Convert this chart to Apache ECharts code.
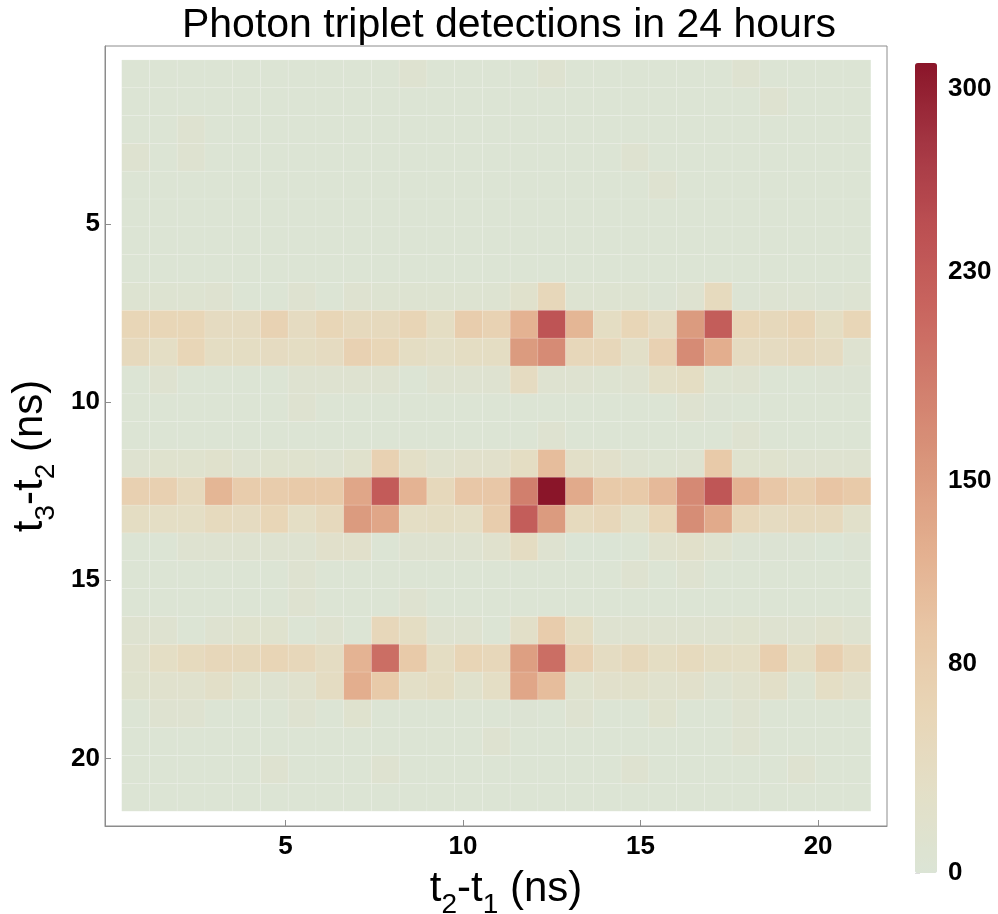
<!DOCTYPE html>
<html>
<head>
<meta charset="utf-8">
<script src="https://cdn.jsdelivr.net/npm/echarts@6/dist/echarts.min.js"></script>
<style>
  html, body { margin: 0; padding: 0; background: #ffffff; }
  #chart { width: 998px; height: 914px; }
</style>
</head>
<body>
<div id="chart"></div>
<script>
// Time-difference histogram of photon triplets: 27 x 27 TDC bins.
const binWidth = 0.78125;                // ns per bin
const binIndex = [1, 2, 3, 4, 5, 6, 7, 8, 9, 10, 11, 12, 13, 14, 15, 16, 17, 18, 19, 20, 21, 22, 23, 24, 25, 26, 27];
const xTicks = [5, 10, 15, 20];
const yTicks = [5, 10, 15, 20];
const colorTicks = [0, 80, 150, 230, 300];
const countMax = 310;

// counts[row][col]: row = t3-t2 bin, col = t2-t1 bin
const counts = [
  [2, 2, 2, 2, 2, 2, 2, 2, 2, 2, 10, 2, 2, 2, 2, 10, 2, 2, 2, 2, 2, 2, 10, 2, 2, 2, 2],
  [2, 2, 2, 2, 2, 2, 2, 2, 2, 2, 2, 2, 2, 2, 2, 2, 2, 2, 2, 2, 2, 2, 2, 10, 2, 2, 2],
  [2, 2, 10, 2, 2, 2, 2, 2, 2, 2, 2, 2, 2, 2, 2, 2, 2, 2, 2, 2, 2, 2, 2, 2, 2, 2, 2],
  [10, 2, 10, 2, 2, 2, 2, 2, 2, 2, 2, 2, 2, 2, 2, 2, 2, 2, 10, 2, 2, 2, 2, 2, 2, 2, 2],
  [2, 2, 2, 2, 2, 2, 2, 2, 2, 2, 2, 2, 2, 2, 2, 2, 2, 2, 2, 10, 2, 2, 2, 2, 2, 2, 2],
  [2, 2, 2, 2, 2, 2, 2, 2, 2, 2, 2, 2, 2, 2, 2, 2, 2, 2, 2, 2, 2, 2, 2, 2, 2, 2, 2],
  [2, 2, 2, 2, 2, 2, 2, 2, 2, 2, 2, 2, 2, 2, 2, 2, 2, 2, 2, 2, 2, 2, 2, 2, 2, 2, 2],
  [2, 2, 2, 2, 2, 2, 2, 2, 2, 2, 2, 2, 2, 2, 2, 2, 2, 2, 2, 2, 2, 2, 2, 2, 2, 2, 2],
  [9, 9, 8, 11, 3, 3, 10, 3, 11, 9, 9, 8, 9, 9, 20, 55, 9, 9, 8, 5, 10, 48, 5, 7, 6, 5, 7],
  [60, 60, 60, 42, 42, 68, 42, 60, 50, 50, 62, 38, 78, 68, 120, 240, 115, 38, 60, 42, 150, 228, 60, 52, 62, 38, 60],
  [50, 35, 60, 38, 38, 42, 38, 42, 70, 60, 38, 30, 38, 38, 150, 170, 55, 55, 28, 70, 170, 125, 42, 42, 50, 42, 10],
  [3, 10, 3, 3, 3, 3, 10, 10, 10, 10, 3, 10, 10, 10, 42, 10, 10, 8, 10, 30, 38, 8, 12, 3, 3, 5, 5],
  [2, 2, 2, 2, 2, 2, 12, 2, 2, 2, 2, 2, 2, 2, 2, 2, 2, 2, 2, 2, 10, 5, 2, 2, 2, 2, 2],
  [2, 2, 2, 2, 2, 2, 2, 2, 2, 2, 2, 2, 2, 2, 2, 12, 2, 2, 2, 2, 2, 2, 10, 2, 2, 2, 2],
  [10, 15, 15, 20, 12, 15, 15, 12, 20, 70, 30, 18, 22, 22, 38, 105, 28, 22, 12, 8, 10, 85, 15, 15, 12, 12, 12],
  [72, 72, 50, 115, 80, 80, 85, 85, 135, 230, 118, 52, 90, 90, 185, 310, 130, 85, 85, 110, 172, 238, 120, 90, 75, 95, 85],
  [38, 35, 35, 48, 42, 60, 35, 50, 150, 135, 35, 38, 35, 78, 228, 150, 48, 55, 30, 60, 168, 130, 55, 42, 50, 50, 25],
  [2, 2, 10, 10, 10, 10, 10, 22, 22, 3, 10, 10, 10, 18, 40, 10, 0, 0, 3, 18, 24, 14, 4, 4, 5, 0, 4],
  [2, 2, 2, 2, 2, 2, 10, 2, 2, 2, 2, 2, 2, 2, 2, 2, 2, 2, 10, 2, 10, 2, 2, 2, 2, 2, 2],
  [2, 2, 2, 2, 2, 2, 10, 2, 2, 2, 10, 2, 2, 2, 2, 2, 2, 2, 2, 2, 2, 2, 2, 2, 2, 2, 2],
  [10, 10, 2, 10, 15, 15, 2, 10, 2, 55, 38, 12, 12, 3, 28, 80, 38, 12, 10, 10, 10, 10, 15, 10, 10, 18, 10],
  [18, 35, 48, 55, 52, 62, 55, 40, 118, 205, 85, 38, 62, 55, 145, 205, 68, 40, 52, 38, 48, 38, 35, 75, 38, 75, 50],
  [15, 18, 18, 28, 15, 10, 18, 40, 125, 85, 30, 38, 20, 35, 135, 105, 15, 22, 25, 18, 22, 10, 18, 28, 8, 35, 22],
  [2, 10, 10, 2, 2, 2, 10, 2, 15, 2, 2, 2, 2, 2, 5, 2, 10, 2, 2, 15, 2, 2, 10, 2, 2, 2, 2],
  [2, 2, 2, 2, 2, 2, 2, 2, 2, 2, 2, 2, 2, 10, 2, 2, 2, 2, 2, 2, 2, 2, 10, 2, 2, 2, 2],
  [2, 2, 2, 2, 2, 10, 2, 2, 2, 10, 2, 2, 2, 2, 2, 2, 2, 2, 10, 2, 2, 2, 2, 2, 10, 2, 2],
  [2, 2, 2, 2, 2, 2, 2, 2, 2, 2, 2, 2, 2, 2, 2, 2, 2, 2, 2, 2, 2, 2, 2, 2, 2, 2, 2]
];

const palette = ['#dbe4d5', '#e3dfc7', '#e8d5b6', '#e8c6a5', '#e3af8f', '#da977c',
                 '#d17e6d', '#c8645e', '#bb4f52', '#a43643', '#8a1529'];

const cells = [];
counts.forEach((row, r) => {
  row.forEach((v, c) => {
    cells.push([binIndex[c] * binWidth, binIndex[r] * binWidth, v]);
  });
});

const FONT = '"Liberation Sans", Arial, sans-serif';
const frameColor = '#8c8c8c';

const nameRich = {
  a: { fontFamily: FONT, fontSize: 42, color: '#000', lineHeight: 48, verticalAlign: 'bottom' },
  s: { fontFamily: FONT, fontSize: 28, color: '#000', lineHeight: 22, verticalAlign: 'bottom', padding: [0, 0, -9, 0] }
};

const chart = echarts.init(document.getElementById('chart'), null, { renderer: 'canvas' });

chart.setOption({
  animation: false,
  backgroundColor: '#ffffff',
  title: {
    text: 'Photon triplet detections in 24 hours',
    left: 504,
    textAlign: 'center',
    top: 0,
    textStyle: { fontFamily: FONT, fontSize: 41, fontWeight: 'normal', color: '#000' }
  },
  grid: [
    { left: 105, top: 46, width: 782, height: 780, show: true, borderColor: frameColor, borderWidth: 1,
      outerBoundsMode: 'none', containLabel: false },
    { left: 915, top: 63, width: 22, height: 810, show: false, outerBoundsMode: 'none', containLabel: false }
  ],
  xAxis: [
    {
      type: 'value', gridIndex: 0, min: -0.08, max: 21.94,
      name: '{a|t}{s|2}{a|-t}{s|1}{a| (ns)}',
      nameLocation: 'middle', nameGap: 36,
      nameTextStyle: { rich: nameRich, padding: [0, 0, 0, 20] },
      axisLine: { show: true, onZero: false, lineStyle: { color: frameColor } },
      axisTick: { show: true, inside: true, length: 6, lineStyle: { color: frameColor }, customValues: xTicks },
      axisLabel: { customValues: xTicks, margin: 8, fontFamily: FONT, fontSize: 26, fontWeight: 'bold', color: '#000' },
      splitLine: { show: false }
    },
    { type: 'value', gridIndex: 1, min: 0, max: 1, show: false }
  ],
  yAxis: [
    {
      type: 'value', gridIndex: 0, min: 0, max: 21.9, inverse: true,
      name: '{a|t}{s|3}{a|-t}{s|2}{a| (ns)}',
      nameLocation: 'middle', nameGap: 52,
      nameTextStyle: { rich: nameRich, padding: [0, 40, 0, 0] },
      axisLine: { show: true, onZero: false, lineStyle: { color: frameColor } },
      axisTick: { show: true, inside: true, length: 6, lineStyle: { color: frameColor }, customValues: yTicks },
      axisLabel: { customValues: yTicks, margin: 5, fontFamily: FONT, fontSize: 26, fontWeight: 'bold', color: '#000' },
      splitLine: { show: false }
    },
    {
      type: 'value', gridIndex: 1, min: 0, max: countMax, position: 'right',
      axisLine: { show: false },
      axisTick: { show: true, length: 5, lineStyle: { color: '#dddddd' }, customValues: colorTicks },
      axisLabel: { customValues: colorTicks, margin: 11, fontFamily: FONT, fontSize: 26, fontWeight: 'bold', color: '#000' },
      splitLine: { show: false }
    }
  ],
  visualMap: {
    type: 'continuous',
    min: 0, max: countMax,
    dimension: 2,
    seriesIndex: 0,
    calculable: false,
    orient: 'vertical',
    left: 915, top: 63,
    itemWidth: 22, itemHeight: 810,
    padding: 0,
    text: null,
    showLabel: false,
    hoverLink: false,
    inRange: { color: palette }
  },
  series: [{
    type: 'custom',
    xAxisIndex: 0, yAxisIndex: 0,
    data: cells,
    encode: { x: 0, y: 1 },
    renderItem: function (params, api) {
      const xc = api.value(0), yc = api.value(1);
      const p0 = api.coord([xc - binWidth / 2, yc - binWidth / 2]);
      const p1 = api.coord([xc + binWidth / 2, yc + binWidth / 2]);
      return {
        type: 'rect',
        shape: {
          x: Math.min(p0[0], p1[0]), y: Math.min(p0[1], p1[1]),
          width: Math.abs(p1[0] - p0[0]), height: Math.abs(p1[1] - p0[1])
        },
        style: { fill: api.visual('color'), stroke: 'rgba(255,255,255,0.1)', lineWidth: 1 }
      };
    }
  }]
});
</script>
</body>
</html>
